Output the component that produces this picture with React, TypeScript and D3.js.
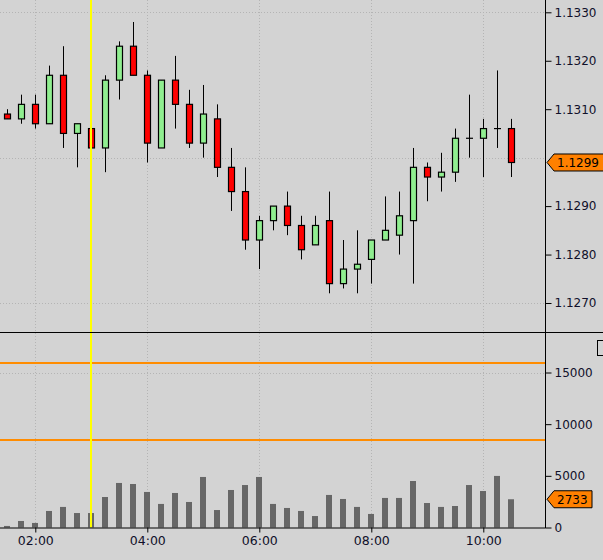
import { useRef, useEffect } from 'react'
import * as d3 from 'd3'

const times = [
  '01:30', '01:45', '02:00', '02:15', '02:30', '02:45', '03:00', '03:15', '03:30', '03:45',
  '04:00', '04:15', '04:30', '04:45', '05:00', '05:15', '05:30', '05:45', '06:00', '06:15',
  '06:30', '06:45', '07:00', '07:15', '07:30', '07:45', '08:00', '08:15', '08:30', '08:45',
  '09:00', '09:15', '09:30', '09:45', '10:00', '10:15', '10:30',
]
const opens = [
  1.1309, 1.1308, 1.1311, 1.1307, 1.1317, 1.1305, 1.1306, 1.1302, 1.1316, 1.1323,
  1.1317, 1.1302, 1.1316, 1.1311, 1.1303, 1.1308, 1.1298, 1.1293, 1.1283, 1.1287,
  1.1290, 1.1286, 1.1282, 1.1287, 1.1274, 1.1277, 1.1279, 1.1283, 1.1284, 1.1287,
  1.1298, 1.1296, 1.1297, 1.1304, 1.1304, 1.1306, 1.1306,
]
const highs = [
  1.1310, 1.1313, 1.1313, 1.1319, 1.1323, 1.1307, 1.1307, 1.1317, 1.1324, 1.1328,
  1.1318, 1.1316, 1.1321, 1.1314, 1.1315, 1.1311, 1.1302, 1.1298, 1.1288, 1.1290,
  1.1293, 1.1288, 1.1288, 1.1293, 1.1283, 1.1285, 1.1283, 1.1292, 1.1293, 1.1302,
  1.1299, 1.1301, 1.1306, 1.1313, 1.1308, 1.1318, 1.1308,
]
const lows = [
  1.1308, 1.1307, 1.1306, 1.1307, 1.1302, 1.1298, 1.1293, 1.1297, 1.1312, 1.1317,
  1.1299, 1.1302, 1.1306, 1.1302, 1.1300, 1.1296, 1.1289, 1.1281, 1.1277, 1.1285,
  1.1284, 1.1279, 1.1282, 1.1272, 1.1273, 1.1272, 1.1274, 1.1283, 1.1280, 1.1274,
  1.1291, 1.1293, 1.1295, 1.1300, 1.1296, 1.1302, 1.1296,
]
const closes = [
  1.1308, 1.1311, 1.1307, 1.1317, 1.1305, 1.1307, 1.1302, 1.1316, 1.1323, 1.1317,
  1.1303, 1.1316, 1.1311, 1.1303, 1.1309, 1.1298, 1.1293, 1.1283, 1.1287, 1.1290,
  1.1286, 1.1281, 1.1286, 1.1274, 1.1277, 1.1278, 1.1283, 1.1285, 1.1288, 1.1298,
  1.1296, 1.1297, 1.1304, 1.1304, 1.1306, 1.1306, 1.1299,
]
const volumes = [
  150, 630, 440, 1600, 1990, 1400, 1400, 2950, 4310, 4210,
  3440, 2280, 3340, 2470, 4890, 1690, 3630, 4110, 4890, 2280,
  1890, 1600, 1110, 3150, 2760, 1990, 1310, 2860, 2860, 4500,
  2370, 1990, 2080, 4110, 3530, 4990, 2733,
]
// 1.1300 sits under the last-price tag, so it has no label
const priceTicks = [1.127, 1.128, 1.129, 1.131, 1.132, 1.133]
const priceGrid = [1.127, 1.13, 1.133]
const volumeTicks = [0, 5000, 10000, 15000]
const volumeGrid = [15000]
const timeTicks = ['02:00', '04:00', '06:00', '08:00', '10:00']
const markerTime = '03:00'
const volumeLevels = [15900, 8500]

const W = 603
const H = 560
const BG = '#d3d3d3'
const FONT = '"DejaVu Sans", Verdana, sans-serif'

const toDate = (t: string) => {
  const [h, m] = t.split(':').map(Number)
  return new Date(2020, 0, 1, h, m)
}

export default function App() {
  const ref = useRef<SVGSVGElement>(null)

  useEffect(() => {
    document.body.style.margin = '0'
    const svg = d3.select(ref.current)
    svg.selectAll('*').remove()

    const axisX = 545.5
    const pricePanel = { top: 0, bottom: 332 }
    const volPanel = { top: 332, bottom: 527.5 }

    const x = d3.scaleTime()
      .domain([toDate('01:00'), toDate('11:00')])
      .range([35.3 - 56, 35.3 + 9 * 56])
    const y = d3.scaleLinear().domain([1.127, 1.133]).range([303, 12.3])
    const yv = d3.scaleLinear().domain([0, 15000]).range([volPanel.bottom, 372.5])

    const data = times.map((t, i) => ({
      t: toDate(t), o: opens[i], h: highs[i], l: lows[i], c: closes[i], v: volumes[i],
    }))

    svg.append('rect').attr('width', W).attr('height', H).attr('fill', BG)

    const defs = svg.append('defs')
    defs.append('clipPath').attr('id', 'price-clip')
      .append('rect').attr('x', 0).attr('y', pricePanel.top)
      .attr('width', axisX).attr('height', pricePanel.bottom - pricePanel.top)

    // grid
    const grid = svg.append('g')
      .attr('stroke', '#b4b4b4').attr('stroke-dasharray', '1,2').attr('stroke-width', 1)
    timeTicks.forEach(t => {
      const px = Math.round(x(toDate(t))) + 0.5
      grid.append('line').attr('x1', px).attr('x2', px).attr('y1', 0).attr('y2', volPanel.bottom)
    })
    priceGrid.forEach(p => {
      const py = Math.round(y(p)) + 0.5
      grid.append('line').attr('x1', 0).attr('x2', axisX).attr('y1', py).attr('y2', py)
    })
    volumeGrid.forEach(v => {
      const py = Math.round(yv(v)) + 0.5
      grid.append('line').attr('x1', 0).attr('x2', axisX).attr('y1', py).attr('y2', py)
    })

    // volume level lines
    volumeLevels.forEach(v => {
      svg.append('line')
        .attr('x1', 0).attr('x2', axisX)
        .attr('y1', Math.round(yv(v))).attr('y2', Math.round(yv(v)))
        .attr('stroke', '#ff8c00').attr('stroke-width', 2)
    })

    // volume bars
    svg.append('g').selectAll('rect')
      .data(data)
      .enter()
      .append('rect')
      .attr('x', d => Math.round(x(d.t)) - 3)
      .attr('width', 6)
      .attr('y', d => yv(d.v))
      .attr('height', d => yv(0) - yv(d.v))
      .attr('fill', '#676767')

    // candles
    const candles = svg.append('g').attr('clip-path', 'url(#price-clip)')
      .selectAll('g')
      .data(data)
      .enter()
      .append('g')
      .attr('transform', d => `translate(${Math.round(x(d.t)) + 0.5},0)`)

    candles.append('line')
      .attr('y1', d => y(d.h)).attr('y2', d => y(d.l))
      .attr('stroke', '#000').attr('stroke-width', 1)

    candles.filter(d => d.o !== d.c)
      .append('rect')
      .attr('x', -3)
      .attr('width', 6)
      .attr('y', d => y(Math.max(d.o, d.c)))
      .attr('height', d => Math.abs(y(d.o) - y(d.c)))
      .attr('fill', d => d.c > d.o ? '#90ee90' : '#ff0000')
      .attr('stroke', '#000')
      .attr('stroke-width', 1.2)

    candles.filter(d => d.o === d.c)
      .append('line')
      .attr('x1', -3.5).attr('x2', 3.5)
      .attr('y1', d => y(d.o)).attr('y2', d => y(d.o))
      .attr('stroke', '#000').attr('stroke-width', 1.2)

    // marker line
    const mx = Math.round(x(toDate(markerTime)))
    svg.append('line')
      .attr('x1', mx).attr('x2', mx).attr('y1', 0).attr('y2', volPanel.bottom)
      .attr('stroke', '#ffff00').attr('stroke-width', 2)

    // panel separator & axes
    svg.append('line').attr('x1', 0).attr('x2', W).attr('y1', pricePanel.bottom + 0.5).attr('y2', pricePanel.bottom + 0.5)
      .attr('stroke', '#000')
    svg.append('line').attr('x1', axisX).attr('x2', axisX).attr('y1', 0).attr('y2', volPanel.bottom + 0.5)
      .attr('stroke', '#000')

    const textStyle = (sel: any) => sel
      .attr('font-family', FONT).attr('font-size', 12).attr('fill', '#10102a')

    const priceAxis = svg.append('g').attr('transform', `translate(${axisX},0)`)
      .call(d3.axisRight(y).tickValues(priceTicks).tickFormat(d3.format('.4f')).tickSize(6).tickPadding(3))
    priceAxis.select('.domain').remove()
    priceAxis.selectAll('line').attr('stroke', '#000')
    priceAxis.selectAll('text').call(textStyle)

    const volAxis = svg.append('g').attr('transform', `translate(${axisX},0)`)
      .call(d3.axisRight(yv).tickValues(volumeTicks).tickFormat(d3.format('d')).tickSize(6).tickPadding(3))
    volAxis.select('.domain').remove()
    volAxis.selectAll('line').attr('stroke', '#000')
    volAxis.selectAll('text').call(textStyle)

    const timeAxis = svg.append('g').attr('transform', `translate(0,${volPanel.bottom})`)
      .call(d3.axisBottom(x).tickValues(timeTicks.map(toDate)).tickFormat(d3.timeFormat('%H:%M') as any).tickSize(5).tickPadding(4))
    timeAxis.select('.domain').attr('d', `M0,0.5H${axisX}`).attr('stroke', '#000')
    timeAxis.selectAll('line').attr('stroke', '#000')
    timeAxis.selectAll('text').call(textStyle).attr('font-size', 12.5)

    // last value labels
    const tag = (cy: number, right: number, label: string) => {
      const tip = axisX + 1.5
      svg.append('path')
        .attr('d', `M${tip},${cy}L${tip + 7},${cy - 8.5}H${right}V${cy + 8.5}H${tip + 7}Z`)
        .attr('fill', '#ff8000').attr('stroke', '#000').attr('stroke-width', 1)
      svg.append('text')
        .attr('x', tip + 10).attr('y', cy).attr('dy', '0.36em')
        .text(label)
        .call(textStyle).attr('fill', '#000')
    }
    const last = data[data.length - 1]
    tag(y(last.c), 612, d3.format('.4f')(last.c))
    tag(yv(last.v), 592, String(last.v))

    // partly hidden box at the top of the volume panel
    svg.append('rect').attr('x', 597.5).attr('y', 340.5).attr('width', 10).attr('height', 15)
      .attr('fill', 'none').attr('stroke', '#000')
  }, [])

  return <svg ref={ref} width={W} height={H} style={{ display: 'block' }} />
}
